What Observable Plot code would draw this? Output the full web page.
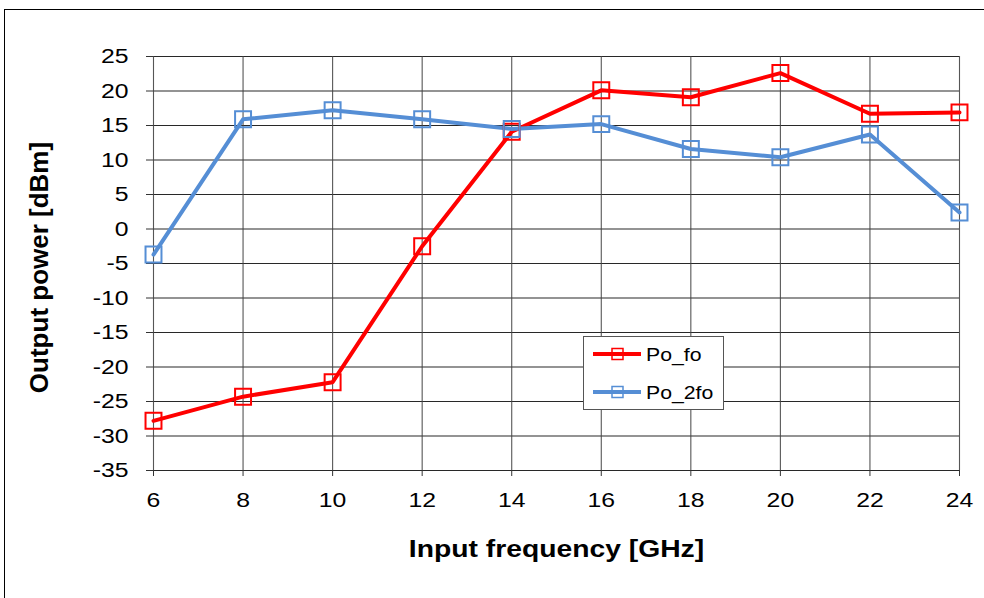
<!DOCTYPE html>
<html><head><meta charset="utf-8">
<script src="https://cdn.jsdelivr.net/npm/d3@7"></script>
<script src="https://cdn.jsdelivr.net/npm/@observablehq/plot@0.6"></script>
<style>
html,body{margin:0;padding:0;background:#fff;overflow:hidden;}
#wrap{position:relative;width:984px;height:598px;overflow:hidden;}
#frame{position:absolute;left:4px;top:9px;width:1000px;height:700px;border-left:1.5px solid #000;border-top:1.5px solid #000;pointer-events:none}
#legend{position:absolute;left:583px;top:336px;}
</style></head>
<body><div id="wrap"><div id="frame"></div></div>
<script>
const freqs = [6, 8, 10, 12, 14, 16, 18, 20, 22, 24];
const poFo = [-27.8, -24.3, -22.2, -2.5, 14.1, 20.1, 19.1, 22.6, 16.7, 16.9];
const po2Fo = [-3.7, 15.9, 17.2, 15.9, 14.5, 15.2, 11.6, 10.4, 13.7, 2.4];
const seriesNames = ["Po_fo", "Po_2fo"];
const seriesColors = ["#FF0000", "#558ED5"];
const yTicks = d3.range(-35, 26, 5);
const xTicks = freqs;
const xTitle = "Input frequency [GHz]";
const yTitle = "Output power [dBm]";

const rows = [];
[poFo, po2Fo].forEach((vals, s) => vals.forEach((v, i) => rows.push({f: freqs[i], p: v, s: seriesNames[s]})));

const font = '"Liberation Sans", Arial, sans-serif';
const STRETCH = 1.18;
const plot = Plot.plot({
  width: 984, height: 598,
  marginLeft: 153, marginRight: 25, marginTop: 56, marginBottom: 128,
  style: {fontFamily: font, background: "transparent", overflow: "visible"},
  x: {domain: [6, 24]},
  y: {domain: [-35, 25]},
  color: {domain: seriesNames, range: seriesColors},
  marks: [
    Plot.gridY(yTicks, {stroke: "#111", strokeOpacity: 0.9, strokeWidth: 1.1}),
    Plot.gridX(xTicks, {stroke: "#444", strokeOpacity: 0.9, strokeWidth: 1.1}),
    Plot.axisY(yTicks, {tickSize: 7, tickPadding: 18, fontSize: 21, label: null, stroke: "#333", fill: "#000", tickFormat: d => String(d)}),
    Plot.axisX(xTicks, {tickSize: 6, tickPadding: 16, fontSize: 21, label: null, stroke: "#333", fill: "#000", tickFormat: d => String(d)}),
    Plot.line(rows, {x: "f", y: "p", z: "s", stroke: "s", strokeWidth: 4}),
    Plot.dot(rows, {x: "f", y: "p", stroke: "s", symbol: "square", r: 9, strokeWidth: 2, fill: "none"}),
    Plot.text([xTitle], {frameAnchor: "bottom", dy: 79, text: d => d, fontSize: 23, fontWeight: "bold", lineAnchor: "middle", textAnchor: "middle", fill: "#000"}),
    Plot.text([yTitle], {frameAnchor: "left", dx: -114, dy: 4, text: d => d, rotate: -90, fontSize: 26, fontWeight: "bold", lineAnchor: "middle", textAnchor: "middle", fill: "#000"})
  ]
});
const wrap = document.getElementById("wrap");
wrap.insertBefore(plot, wrap.firstChild);

// widen the glyphs horizontally, as in the reference picture
d3.select(plot).selectAll("text").each(function() {
  const el = d3.select(this);
  let t = el.attr("transform");
  if (!t) {
    const x = +(el.attr("x") || 0), y = +(el.attr("y") || 0);
    t = `translate(${x},${y})`;
    el.attr("x", null).attr("y", null);
  }
  if (t.includes("rotate")) return;
  const s = el.text() === xTitle ? 1.23 : STRETCH;
  el.attr("transform", t + ` scale(${s},1)`);
});

// legend
const lg = d3.select(wrap).append("svg").attr("id", "legend").attr("width", 141).attr("height", 74);
lg.append("rect").attr("x", 0.5).attr("y", 0.5).attr("width", 140).attr("height", 73).attr("fill", "#fff").attr("stroke", "#555");
seriesNames.forEach((n, i) => {
  const cy = 18 + i * 38;
  const g = lg.append("g").attr("transform", `translate(0,${cy})`);
  g.append("line").attr("x1", 10).attr("x2", 58).attr("y1", 0).attr("y2", 0).attr("stroke", seriesColors[i]).attr("stroke-width", 4);
  g.append("rect").attr("x", 29).attr("y", -5.5).attr("width", 11).attr("height", 11).attr("fill", "none").attr("stroke", seriesColors[i]).attr("stroke-width", 1.5);
  g.append("text").attr("transform", `translate(63,7) scale(${STRETCH},1)`).attr("font-family", font).attr("font-size", 18).attr("fill", "#000").text(n);
});
</script>
</body></html>
